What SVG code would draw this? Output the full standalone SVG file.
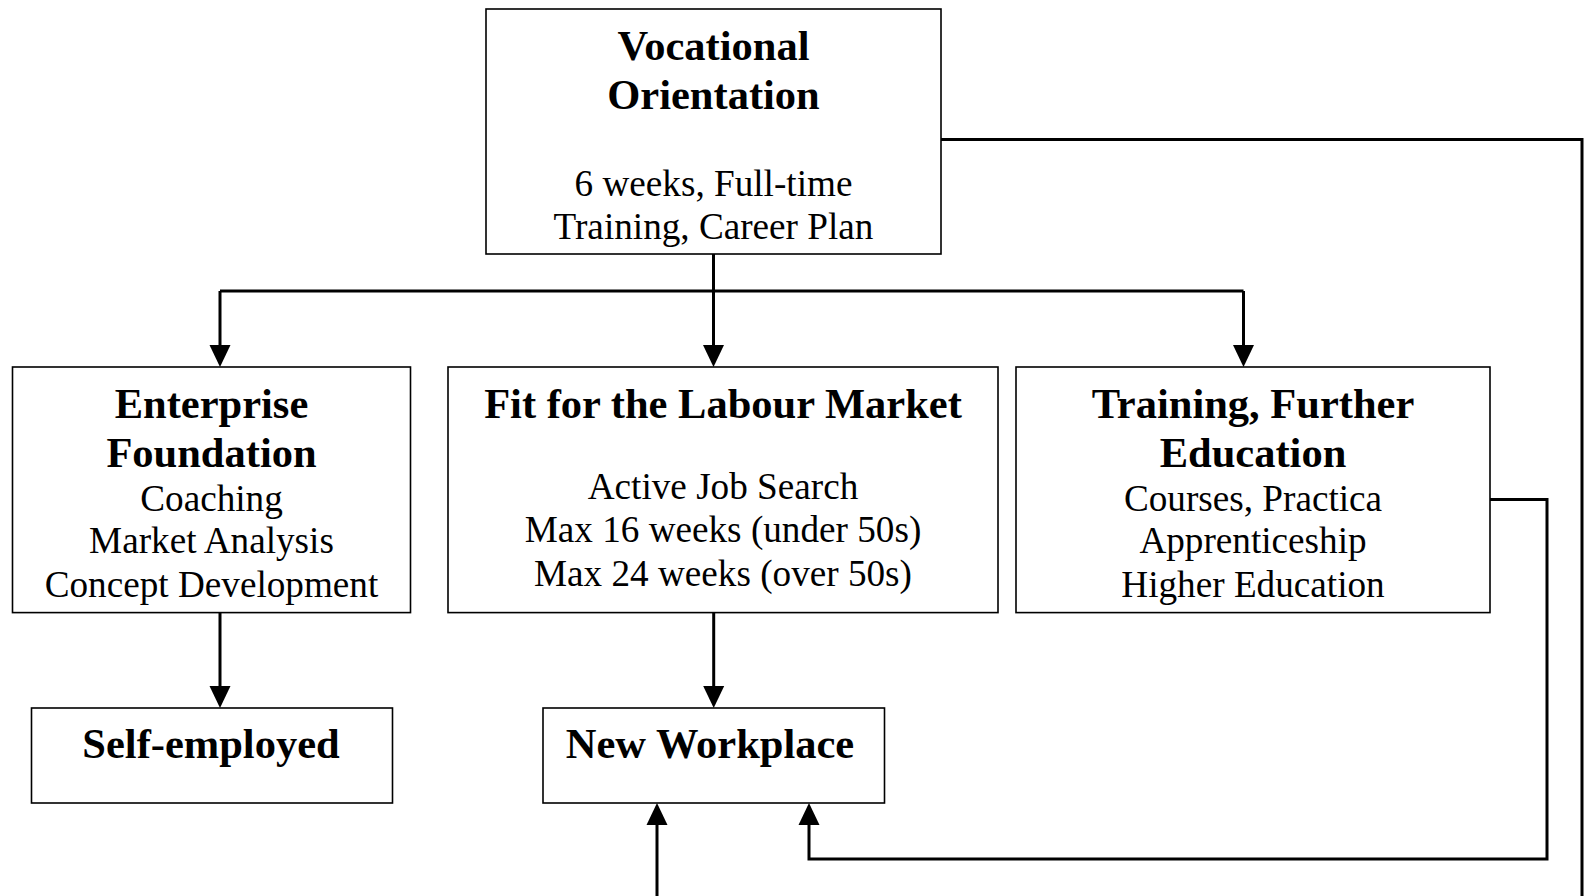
<svg xmlns="http://www.w3.org/2000/svg" width="1585" height="896" viewBox="0 0 1585 896">
<style>
.box{fill:#fff;stroke:#000;stroke-width:1.6}
.t{font-family:"Liberation Serif","Times New Roman",serif;fill:#000;text-anchor:middle}
.b{font-weight:bold;font-size:42.5px}
.r{font-size:37.2px}
.c{fill:none;stroke:#000;stroke-width:3}
</style>
<defs>
<marker id="ah" viewBox="0 0 22 22" refX="0" refY="11" markerWidth="22" markerHeight="22" markerUnits="userSpaceOnUse" orient="auto">
<path d="M0,0.5 L22,11 L0,21.5 z" fill="#000"/>
</marker>
</defs>
<rect width="1585" height="896" fill="#fff"/>
<g id="connectors">
<path class="c" d="M220,291 H1243.5"/>
<path class="c" d="M220,291 V345" marker-end="url(#ah)"/>
<path class="c" d="M713.5,254 V345" marker-end="url(#ah)"/>
<path class="c" d="M1243.5,291 V345" marker-end="url(#ah)"/>
<path class="c" d="M941,139.5 H1582 V896"/>
<path class="c" d="M220,612.6 V686" marker-end="url(#ah)"/>
<path class="c" d="M713.7,612.6 V686" marker-end="url(#ah)"/>
<path class="c" d="M657,896 V825" marker-end="url(#ah)"/>
<path class="c" d="M1490,499.5 H1547 V859 H809 V825" marker-end="url(#ah)"/>
</g>
<g id="vocational">
<rect class="box" x="486" y="9" width="455" height="245"/>
<text class="t b" x="713.5" y="59.5">Vocational</text>
<text class="t b" x="713.5" y="108.5">Orientation</text>
<text class="t r" x="713.5" y="195.5">6 weeks, Full-time</text>
<text class="t r" x="713.5" y="238.5">Training, Career Plan</text>
</g>
<g id="enterprise">
<rect class="box" x="12.5" y="367" width="398" height="245.6"/>
<text class="t b" x="211.5" y="418">Enterprise</text>
<text class="t b" x="211.5" y="467">Foundation</text>
<text class="t r" x="211.5" y="510.5">Coaching</text>
<text class="t r" x="211.5" y="553">Market Analysis</text>
<text class="t r" x="211.5" y="596.5">Concept Development</text>
</g>
<g id="fit">
<rect class="box" x="448" y="367" width="550" height="245.6"/>
<text class="t b" x="723" y="418">Fit for the Labour Market</text>
<text class="t r" x="723" y="499">Active Job Search</text>
<text class="t r" x="723" y="542">Max 16 weeks (under 50s)</text>
<text class="t r" x="723" y="585.5">Max 24 weeks (over 50s)</text>
</g>
<g id="training">
<rect class="box" x="1016" y="367" width="474" height="245.6"/>
<text class="t b" x="1253" y="418">Training, Further</text>
<text class="t b" x="1253" y="467">Education</text>
<text class="t r" x="1253" y="510.5">Courses, Practica</text>
<text class="t r" x="1253" y="553">Apprenticeship</text>
<text class="t r" x="1253" y="596.5">Higher Education</text>
</g>
<g id="self-employed">
<rect class="box" x="31.5" y="708" width="361" height="95"/>
<text class="t b" x="211" y="758">Self-employed</text>
</g>
<g id="new-workplace">
<rect class="box" x="543" y="708" width="341.5" height="95"/>
<text class="t b" x="710" y="758">New Workplace</text>
</g>
</svg>
